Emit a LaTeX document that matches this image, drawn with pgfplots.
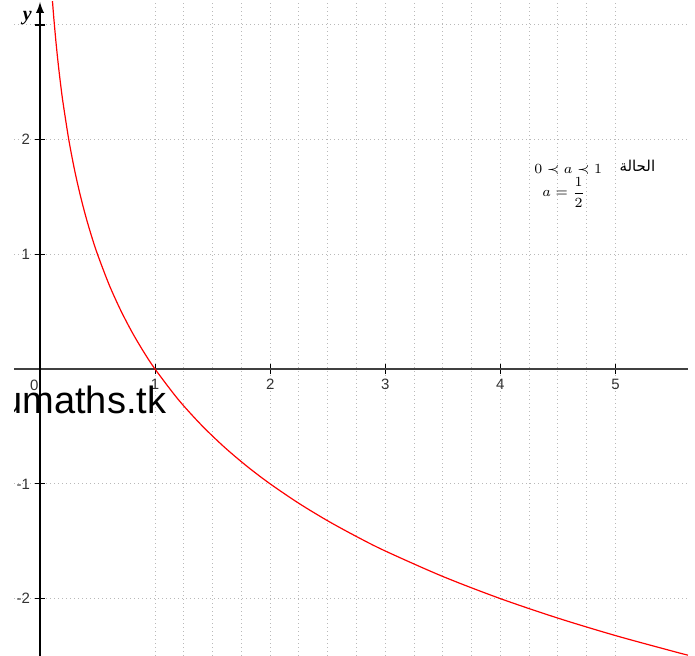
\documentclass[border=0pt]{standalone}
\usepackage{fontspec}
\setmainfont{Liberation Sans}
\newfontfamily\arabicfont[Script=Arabic]{DejaVu Sans}
\newfontfamily\serifit{Liberation Serif}
\TeXXeTstate=1
\usepackage{pgfplots}
\pgfplotsset{compat=1.18}
\begin{document}
\begin{tikzpicture}
\begin{axis}[
    scale only axis,
    width=337pt, height=327pt,
    xmin=-0.226, xmax=5.63,
    ymin=-2.50, ymax=3.20,
    axis lines=middle,
    axis line style={line width=0.9pt},
    x axis line style={-, black!75},
    y axis line style={-latex, black},
    xtick={1,2,3,4,5},
    ytick={-2,-1,1,2,3},
    yticklabels={-2,-1,1,2,{}},
    minor tick num=3,
    grid=both,
    grid style={dash pattern=on 0.5pt off 1.5pt, gray!55, line width=0.5pt},
    major tick length=5pt,
    minor tick length=0pt,
    tick align=center,
    tick style={line width=0.6pt, black},
    /pgf/number format/assume math mode=true,
    tick label style={font=\fontsize{7.5}{8}\selectfont, text=black!80},
    xticklabel style={yshift=1pt},
    yticklabel style={xshift=1pt},
]
\addplot[red, line width=0.6pt, smooth] coordinates {
    (0.107,3.224) (0.12,3.059) (0.14,2.837) (0.16,2.644) (0.18,2.474)
    (0.2,2.322) (0.25,2.000) (0.3,1.737) (0.35,1.515) (0.4,1.322)
    (0.45,1.152) (0.5,1.000) (0.6,0.737) (0.7,0.515) (0.8,0.322)
    (0.9,0.152) (1,0) (1.2,-0.263) (1.4,-0.485) (1.6,-0.678)
    (1.8,-0.848) (2,-1.000) (2.25,-1.170) (2.5,-1.322) (2.75,-1.459)
    (3,-1.585) (3.5,-1.807) (4,-2.000) (4.5,-2.170) (5,-2.322)
    (5.5,-2.459) (5.63,-2.493)
};
\coordinate (sw) at (rel axis cs:0,0);
\coordinate (ne) at (rel axis cs:1,1);
\node[font=\fontsize{7.5}{8}\selectfont, text=black!80] at (axis cs:-0.05,-0.14) {0};
\node[font=\serifit\bfseries\itshape\fontsize{10}{11}\selectfont] at (axis cs:-0.11,3.06) {y};
\node[font=\fontsize{19}{20}\selectfont, anchor=base east, inner sep=0pt] at (axis cs:1.10,-0.39) {umaths.tk};
\node[font=\fontsize{7}{8}\selectfont] at (axis cs:4.59,1.74) {$0 \prec a \prec 1$};
\node[font=\arabicfont\fontsize{7.5}{8}\selectfont] at (axis cs:5.19,1.77) {\beginR الحالة\endR};
\node[font=\fontsize{7}{8}\selectfont] at (axis cs:4.55,1.54) {$a = {\displaystyle\frac{1}{2}}$};
\end{axis}
\pgfresetboundingbox
\path ([xshift=-7pt]sw) rectangle ([xshift=3.5pt,yshift=1pt]ne);
\end{tikzpicture}
\end{document}
